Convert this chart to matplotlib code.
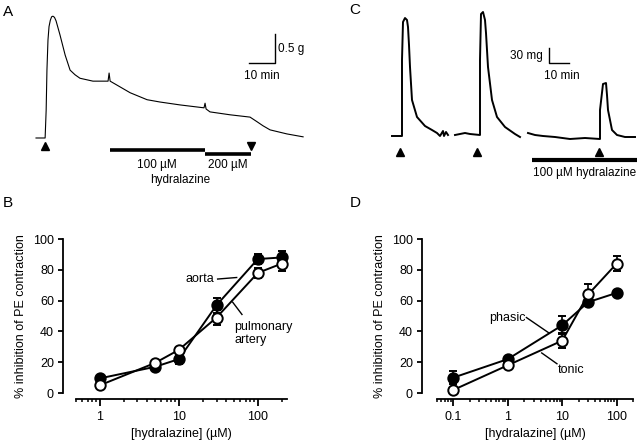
import matplotlib
matplotlib.use("Agg")
import matplotlib.pyplot as plt
import numpy as np
from matplotlib.ticker import LogLocator, NullFormatter

plt.rcParams['font.family'] = ['Liberation Sans', 'DejaVu Sans']
plt.rcParams['font.size'] = 8

# ---------------- data ----------------
# Panel A trace (time in min, tension in g)
a_time = [0, 3.5, 3.9, 4.2, 4.6, 5.0, 5.5, 6.0, 6.5, 7.1, 7.7, 9.2, 11.2, 13.1, 15.0, 16.9, 21.9, 27.7, 28.1, 28.5,
          31.2, 36.2, 42.7, 47.7, 55.4, 64.6, 65.0, 65.4, 66.9, 74.6, 82.3, 85.0, 87.3, 90.0, 96.5, 102.7]
a_tension = [0, 0, 0.48, 1.17, 1.69, 1.92, 2.03, 2.09, 2.10, 2.08, 2.02, 1.78, 1.43, 1.17, 1.09, 1.03, 0.98, 0.98, 1.12, 0.98,
             0.91, 0.78, 0.66, 0.62, 0.57, 0.52, 0.60, 0.50, 0.45, 0.40, 0.36, 0.28, 0.21, 0.14, 0.07, 0.02]
a_pe_time = [3.5]
a_washout_time = [82.7]
a_hyd100 = [28.5, 65.0]
a_hyd200 = [65.0, 82.7]

# Panel C trace (time in min, tension in mg), three recorded segments
c_seg1_t = [0, 5, 5, 5.5, 6.5, 7.5, 8, 8.5, 9, 10, 12.5, 16.5, 20, 22.5, 24, 25.5, 26, 27, 28]
c_seg1_v = [0, 0, 152, 228, 236, 232, 218, 182, 138, 72, 38, 20, 12, 6, 0, 10, 0, 8, 2]
c_seg2_t = [31.5, 34, 36.5, 39, 44, 44, 44.5, 45.5, 46.5, 47, 48, 50, 52.5, 56.5, 61.5, 64]
c_seg2_v = [2, 4, 6, 4, 2, 152, 244, 248, 232, 206, 138, 72, 38, 18, 4, -2]
c_seg3_t = [68, 71.5, 75.5, 81.5, 89, 96.5, 104, 104, 105.5, 107, 107.5, 108, 110, 112.5, 116.5, 121.5]
c_seg3_v = [6, 2, 0, -2, -6, -4, -6, 52, 104, 106, 82, 52, 12, 2, -2, -2]
c_pe_time = [4, 42.5, 103.5]
c_hyd100 = [70, 122.5]

# Panel B
b_conc = [1, 5, 10, 30, 100, 200]
b_aorta = [9.5, 17, 22, 57, 87, 88]
b_aorta_err = [1.5, 1.5, 3, 5, 3.5, 4]
b_pulm = [5, 19.5, 28, 49, 78, 84]
b_pulm_err = [1, 1, 2, 5, 3, 5]

# Panel D
d_conc = [0.1, 1, 10, 30, 100]
d_phasic = [10, 22, 44, 59, 65]
d_phasic_err = [4, 1.5, 6, 2, 2]
d_tonic = [2, 18, 34, 64, 84]
d_tonic_err = [1, 1.5, 5, 7, 5]

W, H = 640, 443
fig = plt.figure(figsize=(W / 100, H / 100), dpi=100)


def rect(x0, y0, x1, y1):
    """pixel box (top-left origin) -> figure fraction rect"""
    return [x0 / W, 1 - y1 / H, (x1 - x0) / W, (y1 - y0) / H]


# ---------------- Panel A ----------------
axA = fig.add_axes(rect(0, 0, 320, 200))
axA.set_xlim(-13.85, 109.2)
axA.set_ylim(-1.069, 2.379)
axA.axis('off')
axA.plot(a_time, a_tension, color='black', lw=0.8)
axA.plot(a_pe_time, [-0.14], marker='^', color='black', ms=6, ls='none')
axA.plot(a_washout_time, [-0.14], marker='v', color='black', ms=6, ls='none')
axA.plot(a_hyd100, [-0.21, -0.21], color='black', lw=2.6, solid_capstyle='butt')
axA.plot(a_hyd200, [-0.27, -0.27], color='black', lw=2.6, solid_capstyle='butt')
axA.text(46.5, -0.47, '100 µM', ha='center', va='center', fontsize=8.5)
axA.text(73.8, -0.47, '200 µM', ha='center', va='center', fontsize=8.5)
axA.text(55.4, -0.73, 'hydralazine', ha='center', va='center', fontsize=8.5)
# scale bar
axA.plot([81.9, 91.9, 91.9], [1.29, 1.29, 1.79], color='black', lw=1.0)
axA.text(93.0, 1.54, '0.5 g', ha='left', va='center', fontsize=8.5)
axA.text(86.9, 1.07, '10 min', ha='center', va='center', fontsize=8.5)

# ---------------- Panel C ----------------
axC = fig.add_axes(rect(320, 0, 640, 200))
axC.set_xlim(-36, 124)
axC.set_ylim(-128, 272)
axC.axis('off')
for tt, vv in [(c_seg1_t, c_seg1_v), (c_seg2_t, c_seg2_v), (c_seg3_t, c_seg3_v)]:
    axC.plot(tt, vv, color='black', lw=1.4)
axC.plot(c_pe_time, [-32] * len(c_pe_time), marker='^', color='black', ms=6, ls='none')
axC.plot(c_hyd100, [-48, -48], color='black', lw=3.0, solid_capstyle='butt')
axC.text(96.5, -74, '100 µM hydralazine', ha='center', va='center', fontsize=8.5)
axC.plot([78.5, 78.5, 88.5], [176, 146, 146], color='black', lw=1.0)
axC.text(75.5, 160, '30 mg', ha='right', va='center', fontsize=8.5)
axC.text(85, 120, '10 min', ha='center', va='center', fontsize=8.5)


# ---------------- dose-response panels ----------------
def style_dr(ax, xlim, left_out_px):
    ax.set_xscale('log')
    ax.set_xlim(*xlim)
    ax.set_ylim(0, 100)
    for s in ['top', 'right']:
        ax.spines[s].set_visible(False)
    ax.spines['left'].set_position(('outward', left_out_px * 0.72))
    ax.spines['bottom'].set_position(('outward', 6 * 0.72))
    ax.spines['left'].set_linewidth(1.3)
    ax.spines['bottom'].set_linewidth(1.3)
    ax.set_yticks([0, 20, 40, 60, 80, 100])
    ax.tick_params(axis='y', which='major', length=3.5, width=1.3, labelsize=9, pad=3)
    ax.tick_params(axis='x', which='major', length=5, width=1.3, labelsize=9, pad=4)
    ax.tick_params(axis='x', which='minor', length=2.5, width=1.1)
    ax.xaxis.set_minor_locator(LogLocator(base=10, subs=np.arange(2, 10)))
    ax.xaxis.set_minor_formatter(NullFormatter())
    ax.set_xlabel('[hydralazine] (µM)', fontsize=9, labelpad=3)
    ax.set_ylabel('% inhibition of PE contraction', fontsize=9, labelpad=4)
    ax.patch.set_alpha(0)


def series(ax, x, y, e, filled):
    ax.errorbar(x, y, yerr=e, color='black', lw=1.4, elinewidth=1.2, capsize=3, capthick=1.2,
                marker='o', ms=7.5, mew=1.4, mfc='black' if filled else 'white', mec='black',
                clip_on=False, zorder=3 if filled else 4)


axB = fig.add_axes(rect(76, 239, 287, 393))
style_dr(axB, (0.5, 234), 13)
axB.set_xticks([1, 10, 100])
axB.set_xticklabels(['1', '10', '100'])
series(axB, b_conc, b_aorta, b_aorta_err, True)
series(axB, b_conc, b_pulm, b_pulm_err, False)
axB.text(18.4, 74, 'aorta', ha='center', va='center', fontsize=9)
axB.plot([31, 54], [74, 75], color='black', lw=1.0)
axB.text(50, 38.5, 'pulmonary\nartery', ha='left', va='center', fontsize=9, linespacing=1.1)
axB.plot([48, 63], [59, 51], color='black', lw=1.0)

axD = fig.add_axes(rect(437, 239, 633, 393))
style_dr(axD, (0.05, 200), 15)
axD.set_xticks([0.1, 1, 10, 100])
axD.set_xticklabels(['0.1', '1', '10', '100'])
series(axD, d_conc, d_phasic, d_phasic_err, True)
series(axD, d_conc, d_tonic, d_tonic_err, False)
axD.text(1.0, 49, 'phasic', ha='center', va='center', fontsize=9)
axD.plot([2.2, 5.7], [49, 39], color='black', lw=1.0)
axD.text(14.5, 15, 'tonic', ha='center', va='center', fontsize=9)
axD.plot([4.2, 8.0], [26, 19], color='black', lw=1.0)

# panel letters
for lab, x, y in [('A', 8, 12), ('B', 8, 203), ('C', 355, 10), ('D', 355, 203)]:
    fig.text(x / W, 1 - y / H, lab, ha='center', va='center', fontsize=11)

fig.savefig('out.png', dpi=100)
